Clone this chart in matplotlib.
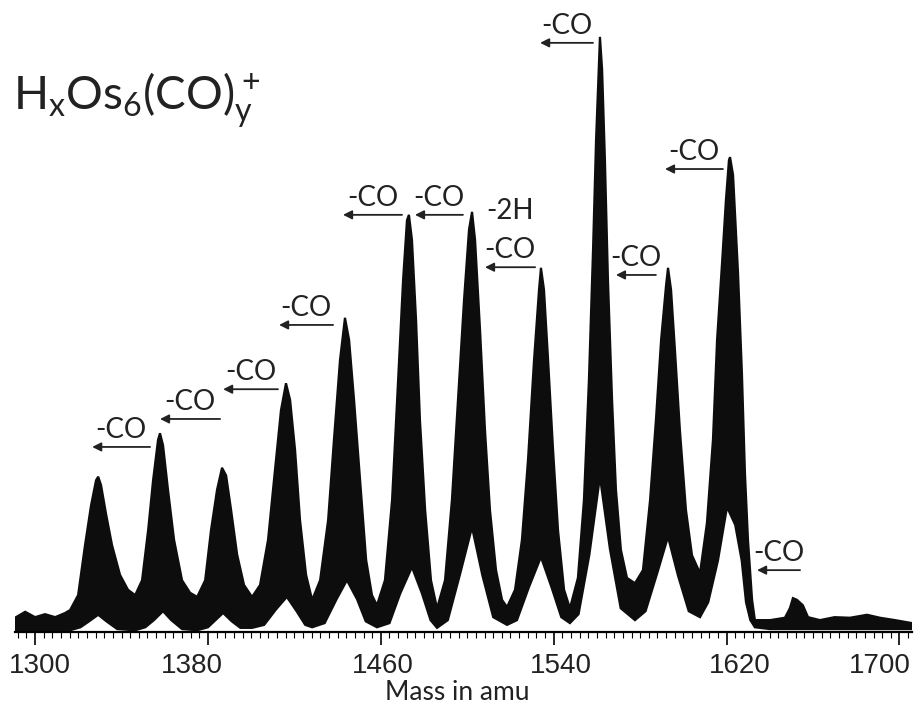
import numpy as np
import matplotlib
matplotlib.use('Agg')
import matplotlib.pyplot as plt
import matplotlib.transforms as mtransforms
from matplotlib.ticker import MultipleLocator

# upper edge of the recorded trace (mass in amu, relative intensity, tallest = 100)
upper_mass = [1290.7, 1295.4, 1300.0, 1304.6, 1309.3, 1313.9, 1316.2,
              1319.9, 1323.1, 1325.9, 1328.2, 1329.2, 1330.5, 1332.9, 1335.6, 1339.3, 1343.0, 1346.3,
              1349.5, 1352.3, 1354.6, 1356.9, 1357.8, 1359.2, 1361.5, 1364.3, 1368.0, 1371.7, 1375.0,
              1378.7, 1381.4, 1384.2, 1386.5, 1388.4, 1390.7, 1393.5, 1396.7, 1400.4,
              1404.1, 1407.8, 1411.0, 1413.8, 1416.1, 1418.0, 1420.3, 1422.6, 1425.4, 1428.2,
              1431.9, 1435.6, 1438.3, 1441.1, 1443.4, 1445.3, 1447.6, 1450.4, 1453.2, 1455.9, 1458.2,
              1461.9, 1465.2, 1468.0, 1470.3, 1472.1, 1473.0, 1474.4, 1476.3, 1478.1, 1480.5, 1483.2, 1486.0,
              1489.7, 1492.9, 1495.7, 1498.5, 1500.8, 1502.2, 1503.6, 1505.9, 1508.2, 1510.5, 1513.3, 1516.1, 1518.4,
              1522.1, 1525.3, 1528.1, 1530.9, 1533.2, 1534.1, 1535.5, 1537.4, 1539.7, 1542.0, 1544.8, 1547.5,
              1551.2, 1554.0, 1556.3, 1558.2, 1559.6, 1561.0, 1561.4, 1562.4, 1563.7, 1565.1, 1567.0, 1568.8,
              1571.1, 1573.9, 1577.6,
              1581.3, 1584.6, 1587.3, 1589.7, 1592.0, 1592.9, 1594.3, 1596.1, 1598.4, 1601.2, 1604.0, 1607.7,
              1610.9, 1613.7, 1615.6, 1617.9, 1619.7, 1621.1, 1621.6, 1623.0, 1625.3, 1627.1, 1628.5, 1629.9,
              1631.8, 1633.1,
              1640.1, 1647.0, 1649.3, 1650.7, 1652.6, 1655.3, 1657.7, 1663.2, 1670.0, 1677.1, 1685.0,
              1691.0, 1698.0, 1705.8]
upper_int = [2.4, 3.4, 2.5, 3.0, 2.5, 3.2, 3.7,
             6.2, 14.6, 21.3, 25.5, 26.1, 24.7, 19.7, 14.6, 9.6, 7.1, 6.2,
             8.7, 17.1, 25.5, 32.3, 33.4, 31.4, 23.9, 15.5, 8.7, 6.6, 5.9,
             8.7, 17.1, 23.9, 27.6, 26.3, 20.5, 13.0, 7.9, 5.9,
             7.9, 15.5, 27.2, 37.3, 41.8, 39.0, 30.6, 18.8, 9.6, 5.4,
             8.7, 18.8, 32.3, 45.7, 52.8, 49.1, 39.0, 25.5, 12.1, 6.2, 4.5,
             8.7, 22.2, 42.4, 59.2, 69.2, 70.1, 65.9, 52.4, 35.6, 20.5, 8.7, 4.0,
             8.7, 22.2, 39.0, 55.8, 67.6, 70.6, 65.9, 50.8, 33.9, 20.5, 10.4, 5.4, 4.2,
             7.1, 15.5, 28.9, 45.7, 57.5, 61.2, 57.5, 45.7, 30.6, 17.1, 7.1, 4.0,
             9.1, 22.2, 42.4, 64.2, 82.7, 96.1, 100.0, 94.5, 79.3, 59.2, 39.0, 23.9,
             13.8, 9.1, 8.2,
             10.4, 22.2, 35.6, 49.1, 58.3, 61.2, 57.5, 47.4, 33.9, 20.5, 12.9, 9.9,
             18.3, 32.3, 49.1, 62.0, 72.6, 79.3, 79.8, 76.8, 60.3, 43.5, 26.7, 15.5,
             5.4, 2.0,
             2.0, 2.4, 4.0, 5.7, 5.4, 4.5, 2.5, 2.0, 2.5, 2.4, 2.9,
             2.4, 2.0, 1.5]

# lower edge of the trace (white arches under each cluster)
lower_mass = [1290.7, 1316.2, 1321.0, 1325.0, 1329.2, 1333.0, 1338.0, 1346.3,
              1351.0, 1355.0, 1359.2, 1363.0, 1368.0, 1375.0,
              1380.0, 1383.5, 1387.0, 1391.0, 1395.0, 1400.4,
              1406.0, 1411.5, 1416.5, 1421.0, 1425.0, 1428.2,
              1434.0, 1439.5, 1444.3, 1449.0, 1453.0, 1458.2,
              1464.0, 1469.0, 1474.4, 1479.0, 1483.0, 1486.0,
              1491.0, 1496.5, 1502.2, 1507.0, 1512.0, 1518.4,
              1523.0, 1528.5, 1534.1, 1539.0, 1543.5, 1547.5,
              1551.5, 1556.5, 1561.4, 1566.0, 1571.0, 1577.6,
              1582.5, 1588.0, 1592.9, 1597.5, 1602.5, 1607.7,
              1611.5, 1616.0, 1620.2, 1624.0, 1627.0, 1629.0, 1631.0, 1633.1,
              1640.0, 1705.8]
lower_int = [0.3, 0.3, 0.8, 1.8, 2.9, 1.8, 0.5, 0.3,
             0.8, 2.0, 3.5, 2.0, 0.5, 0.3,
             0.8, 2.0, 3.2, 1.8, 0.7, 0.7,
             1.2, 3.8, 5.9, 3.5, 1.2, 0.8,
             1.5, 5.5, 8.7, 5.5, 1.8, 0.8,
             1.5, 6.5, 10.9, 6.5, 2.0, 0.7,
             2.0, 9.5, 17.6, 9.5, 2.5, 1.2,
             2.0, 7.5, 12.6, 7.5, 2.5, 1.5,
             3.0, 13.0, 26.1, 14.0, 4.0, 2.0,
             3.5, 10.0, 16.0, 9.5, 3.5, 2.5,
             5.0, 12.0, 21.0, 18.0, 12.0, 5.0, 2.0, 0.8,
             0.5, 0.5]

# "-CO" loss arrows: (label, arrow head mass, arrow tail mass, intensity level)
arrow_labels = ['-CO', '-CO', '-CO', '-CO', '-CO', '-CO', '-CO', '-CO', '-CO', '-CO', '-CO']
arrow_head = [1326.4, 1357.8, 1387.0, 1412.9, 1442.5, 1475.8, 1508.2, 1533.7, 1568.8, 1591.5, 1634.1]
arrow_tail = [1353.2, 1385.6, 1412.4, 1437.9, 1469.8, 1498.0, 1531.4, 1558.2, 1587.3, 1618.3, 1654.0]
arrow_level = [31.1, 35.8, 40.8, 51.6, 70.1, 70.1, 61.3, 99.0, 60.0, 77.8, 10.4]

tick_values = [1300, 1380, 1460, 1540, 1620, 1700]
# small horizontal nudges of the printed tick labels (pixels)
label_nudge = [5, -16, 2, 7, 13, -20]

fig = plt.figure(figsize=(9.15, 7.08), dpi=100)
ax = fig.add_axes([0.0164, 0.1073, 0.9803, 0.8927])

xs = upper_mass + lower_mass[::-1]
ys = upper_int + lower_int[::-1]
ax.fill(xs, ys, color='#0d0d0d', lw=1.6, ec='#0d0d0d', joinstyle='miter')

txt_kw = dict(fontsize=20, color='#222222', family='Lato')
for lab, x0, x1, y in zip(arrow_labels, arrow_head, arrow_tail, arrow_level):
    ax.annotate('', xy=(x0, y), xytext=(x1, y),
                arrowprops=dict(arrowstyle='-|>', color='#222222', lw=1.3,
                                mutation_scale=13, shrinkA=0, shrinkB=0))
    ax.annotate(lab, xy=((x0 + x1) / 2, y), xytext=(0, 3), textcoords='offset points',
                ha='center', va='bottom', **txt_kw)
ax.annotate('-2H', xy=((arrow_head[6] + arrow_tail[6]) / 2, arrow_level[6]),
            xytext=(0, 31), textcoords='offset points', ha='center', va='bottom', **txt_kw)

ax.set_xlim(1290.7, 1705.8)
ax.set_ylim(0, 106.2)
for s in ['left', 'right', 'top']:
    ax.spines[s].set_visible(False)
ax.spines['bottom'].set_linewidth(1.6)
ax.set_yticks([])
ax.set_xticks(tick_values)
ax.xaxis.set_minor_locator(MultipleLocator(4))
ax.tick_params(axis='x', which='major', direction='out', length=9, width=1.2, pad=6)
ax.tick_params(axis='x', which='minor', direction='out', length=4, width=0.8)
for lbl, dx in zip(ax.get_xticklabels(), label_nudge):
    lbl.set_family(['Liberation Sans Narrow', 'Liberation Sans'])
    lbl.set_fontsize(20)
    lbl.set_color('#222222')
    lbl.set_transform(lbl.get_transform() + mtransforms.ScaledTranslation(dx / 100, 0, fig.dpi_scale_trans))

fig.text(0.4995, 0.012, 'Mass in amu', ha='center', va='baseline', fontsize=19,
         color='#222222', family='Lato')
fig.text(0.0142, 0.8446, r'$\mathregular{H_xOs_6(CO)_y^+}$', ha='left', va='baseline',
         fontsize=33, color='#222222', family='Lato')

fig.savefig('out.png', dpi=100, facecolor='white')
